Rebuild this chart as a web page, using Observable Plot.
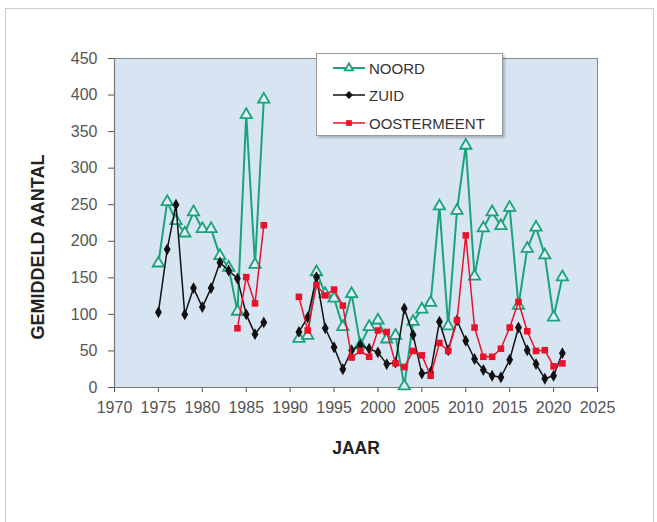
<!DOCTYPE html>
<html><head><meta charset="utf-8">
<script src="https://cdn.jsdelivr.net/npm/d3@7"></script>
<script src="https://cdn.jsdelivr.net/npm/@observablehq/plot@0.6"></script>
<style>
body{margin:0;background:#fff;font-family:Arial,"Liberation Sans",sans-serif;}
#wrap{position:relative;width:657px;height:522px;overflow:hidden;}
#border{position:absolute;left:5px;top:8px;width:649px;height:600px;border:1px solid #cfcfcf;box-sizing:border-box;pointer-events:none;}
#chart{position:absolute;left:0;top:0;}
#legend{position:absolute;left:316px;top:53px;width:187px;height:83px;background:#fff;border:1px solid #9a9a9a;box-shadow:2px 2px 2px rgba(0,0,0,0.22);box-sizing:border-box;}
.row{position:absolute;left:16px;height:16px;display:flex;align-items:center;font-size:15px;color:#333;}
.row svg{margin-right:4px;}
</style></head>
<body>
<div id="wrap">
  <div id="border"></div>
  <div id="chart"></div>
  <div id="legend"></div>
</div>
<script>
const years = [1975,1976,1977,1978,1979,1980,1981,1982,1983,1984,1985,1986,1987,1988,1989,1990,
  1991,1992,1993,1994,1995,1996,1997,1998,1999,2000,2001,2002,2003,2004,2005,2006,2007,2008,2009,2010,
  2011,2012,2013,2014,2015,2016,2017,2018,2019,2020,2021];
const noord = [170,254,228,211,240,217,217,180,164,104,373,168,394,null,null,null,
  67,71,158,128,122,83,128,58,83,92,66,71,2,90,107,116,248,84,242,331,152,218,240,221,246,112,190,219,181,96,151];
const zuid = [103,189,250,100,136,110,136,171,160,149,100,73,89,null,null,null,
  76,96,151,81,55,25,51,58,53,48,32,34,108,72,19,21,90,51,92,64,39,24,16,14,38,82,51,32,12,16,47];
const oostermeent = [null,null,null,null,null,null,null,null,null,81,151,115,222,null,null,null,
  124,78,140,126,134,112,41,50,42,78,76,33,28,50,44,16,61,50,92,208,82,42,42,53,82,117,77,50,51,29,33];
const seriesNames = ["NOORD","ZUID","OOSTERMEENT"];
const xTicks = [1970,1975,1980,1985,1990,1995,2000,2005,2010,2015,2020,2025];
const yTicks = [0,50,100,150,200,250,300,350,400,450];
const xTitle = "JAAR";
const yTitle = "GEMIDDELD AANTAL";

const GREEN = "#1aa37a", BLACK = "#111111", RED = "#e8132b", BG = "#d7e5f2";
const styles = {
  NOORD: {values: noord, stroke: GREEN, lineWidth: 2, symbol: "triangle", r: 4.2, fill: "#e4eef7", sw: 1.8},
  ZUID: {values: zuid, stroke: BLACK, lineWidth: 1.5, symbol: "diamond", r: 3.6, fill: BLACK, sw: 0},
  OOSTERMEENT: {values: oostermeent, stroke: RED, lineWidth: 1.5, symbol: "square", r: 3.7, fill: RED, sw: 0}
};

const seriesMarks = seriesNames.flatMap(name => {
  const s = styles[name];
  const data = years.map((yr, i) => ({year: yr, v: s.values[i]}));
  return [
    Plot.line(data, {x: "year", y: "v", stroke: s.stroke, strokeWidth: s.lineWidth}),
    Plot.dot(data.filter(d => d.v != null), {x: "year", y: "v", symbol: () => s.symbol, r: s.r,
      fill: s.fill, stroke: s.sw ? s.stroke : "none", strokeWidth: s.sw})
  ];
});

const chart = Plot.plot({
  width: 657, height: 522,
  marginLeft: 114, marginRight: 60, marginTop: 58, marginBottom: 135,
  style: {fontFamily: "Arial, 'Liberation Sans', sans-serif", fontSize: "16px", color: "#555", background: "transparent"},
  x: {domain: [1970, 2025]},
  y: {domain: [0, 450]},
  marks: [
    Plot.frame({fill: BG, stroke: "#8a8a8a"}),
    Plot.axisX({ticks: xTicks, tickFormat: d => String(d), tickSize: 5, tickPadding: 9, label: null, fontSize: 16}),
    Plot.axisY({ticks: yTicks, tickSize: 6, tickPadding: 11, label: null, fontSize: 16}),
    Plot.ruleY([0], {stroke: "#777", strokeWidth: 1.2}),
    Plot.ruleX([1970], {stroke: "#777", strokeWidth: 1.2}),
    ...seriesMarks,
    Plot.text([xTitle], {frameAnchor: "bottom", dy: 66, fontSize: 17.5, fontWeight: "bold", fill: "#222"}),
    Plot.text([yTitle], {frameAnchor: "left", dx: -76, dy: 24, rotate: -90, textAnchor: "middle", fontSize: 18, fontWeight: "bold", fill: "#222"})
  ]
});
document.getElementById("chart").appendChild(chart);

// legend
const legend = document.getElementById("legend");
const sym = {
  triangle: d3.symbol(d3.symbolTriangle2, 50)(),
  diamond: d3.symbol(d3.symbolDiamond2, 40)(),
  square: d3.symbol(d3.symbolSquare2, 42)()
};
const rowTops = [6, 33, 61];
seriesNames.forEach((name, i) => {
  const s = styles[name];
  const row = document.createElement("div");
  row.className = "row";
  row.style.top = rowTops[i] + "px";
  row.innerHTML = `<svg width="32" height="14" viewBox="-16 -7 32 14">
     <line x1="-16" x2="16" y1="0" y2="0" stroke="${s.stroke}" stroke-width="${s.lineWidth}"/>
     <path d="${sym[s.symbol]}" fill="${s.fill}" stroke="${s.sw ? s.stroke : 'none'}" stroke-width="${s.sw}"/>
   </svg><span>${name}</span>`;
  legend.appendChild(row);
});
</script>
</body></html>
